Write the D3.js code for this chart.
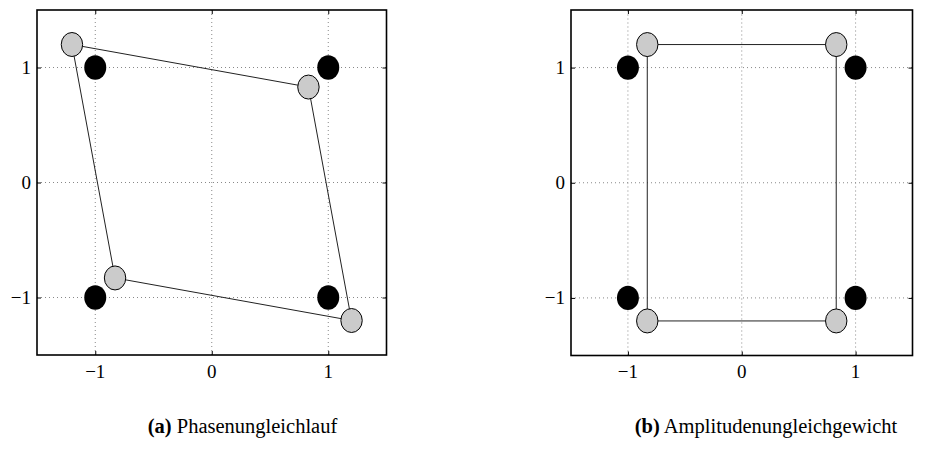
<!DOCTYPE html>
<html><head><meta charset="utf-8">
<script src="https://cdn.jsdelivr.net/npm/d3@7"></script>
<style>body{margin:0;background:#fff}svg{display:block}
text{font-family:"Liberation Serif","Times New Roman",Times,"DejaVu Serif",serif;}</style>
</head><body>
<script>
const ticks = [-1, 0, 1];
const tickLabels = ["\u22121", "0", "1"];
const domain = [-1.5, 1.5];
const idealX = [-1, 1, 1, -1];
const idealY = [1, 1, -1, -1];
const phaseX = [-1.2, 0.83, 1.2, -0.83];
const phaseY = [1.2, 0.83, -1.2, -0.83];
const ampX = [-0.83, 0.83, 0.83, -0.83];
const ampY = [1.2, 1.2, -1.2, -1.2];
const captionLetters = ["(a)", "(b)"];
const captionTexts = ["Phasenungleichlauf", "Amplitudenungleichgewicht"];

const W = 936, H = 450;
const svg = d3.select("body").append("svg").attr("width", W).attr("height", H);

const panels = [
  {x0: 37, x1: 386.5, y0: 355, y1: 10, gx: phaseX, gy: phaseY, cx: 242.5},
  {x0: 571, x1: 912.5, y0: 355.5, y1: 10, gx: ampX, gy: ampY, cx: 766}
];

panels.forEach((p, i) => {
  const x = d3.scaleLinear().domain(domain).range([p.x0, p.x1]);
  const y = d3.scaleLinear().domain(domain).range([p.y0, p.y1]);
  const g = svg.append("g");
  g.selectAll(".gx").data(ticks).join("line")
    .attr("x1", d => x(d)).attr("x2", d => x(d)).attr("y1", p.y0).attr("y2", p.y1)
    .attr("stroke", "#888").attr("stroke-width", 1).attr("stroke-dasharray", "1,3");
  g.selectAll(".gy").data(ticks).join("line")
    .attr("y1", d => y(d)).attr("y2", d => y(d)).attr("x1", p.x0).attr("x2", p.x1)
    .attr("stroke", "#888").attr("stroke-width", 1).attr("stroke-dasharray", "1,3");
  const ax = [
    d3.axisBottom(x).tickValues(ticks).tickSize(-4).tickFormat(""),
    d3.axisTop(x).tickValues(ticks).tickSize(-4).tickFormat(""),
    d3.axisLeft(y).tickValues(ticks).tickSize(-4).tickFormat(""),
    d3.axisRight(y).tickValues(ticks).tickSize(-4).tickFormat("")
  ];
  const tr = [`translate(0,${p.y0})`, `translate(0,${p.y1})`, `translate(${p.x0},0)`, `translate(${p.x1},0)`];
  ax.forEach((a, k) => {
    const ga = g.append("g").attr("transform", tr[k]).call(a);
    ga.select(".domain").remove();
    ga.selectAll("line").attr("stroke", "#000").attr("stroke-width", 1);
  });
  g.append("rect").attr("x", p.x0).attr("y", p.y1).attr("width", p.x1 - p.x0).attr("height", p.y0 - p.y1)
    .attr("fill", "none").attr("stroke", "#000").attr("stroke-width", 1.6);
  g.selectAll(".xl").data(ticks).join("text")
    .attr("x", d => x(d)).attr("y", 378).attr("text-anchor", "middle")
    .style("font-size", "19px").text((d, k) => tickLabels[k]);
  g.selectAll(".yl").data(ticks).join("text")
    .attr("x", p.x0 - 6).attr("y", d => y(d) + 6.5).attr("text-anchor", "end")
    .style("font-size", "19px").text((d, k) => tickLabels[k]);
  const pts = p.gx.map((v, k) => [x(v), y(p.gy[k])]);
  g.append("path").attr("d", d3.line()(pts) + "Z").attr("fill", "none")
    .attr("stroke", "#222").attr("stroke-width", 1);
  g.selectAll(".ideal").data(idealX).join("ellipse")
    .attr("cx", d => x(d)).attr("cy", (d, k) => y(idealY[k])).attr("rx", 11).attr("ry", 12.2)
    .attr("fill", "#000");
  g.selectAll(".dist").data(p.gx).join("ellipse")
    .attr("cx", d => x(d)).attr("cy", (d, k) => y(p.gy[k])).attr("rx", 10.7).attr("ry", 12)
    .attr("fill", "#cbcbcb").attr("stroke", "#000").attr("stroke-width", 1);
  const t = svg.append("text").attr("x", p.cx).attr("y", 433).attr("text-anchor", "middle")
    .style("font-size", "20.5px");
  t.append("tspan").attr("font-weight", "bold").text(captionLetters[i]);
  t.append("tspan").text(" " + captionTexts[i]);
});
</script>
</body></html>
